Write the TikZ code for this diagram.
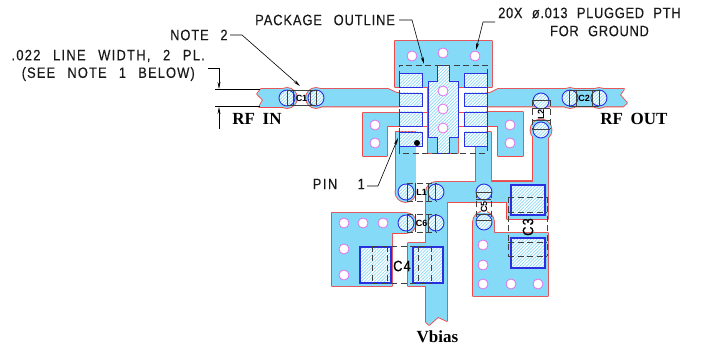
\documentclass[tikz,border=0pt]{standalone}
\usepackage{fontspec}
\usetikzlibrary{patterns.meta,arrows.meta}
\setmainfont{Liberation Serif}
\newfontfamily\cadfont[FakeStretch=0.86,FakeBold=0.25,LetterSpace=6,WordSpace=2.6]{Liberation Sans}
\newfontfamily\cadwide[FakeStretch=0.86,FakeBold=0.25,LetterSpace=8.5,WordSpace=2.6]{Liberation Sans}
\newfontfamily\cadmid[FakeStretch=0.86,FakeBold=0.25,LetterSpace=7.5,WordSpace=2.6]{Liberation Sans}
\newfontfamily\cadnarrow[FakeStretch=0.86,FakeBold=0.25,LetterSpace=4.5,WordSpace=2.2]{Liberation Sans}
\newfontfamily\cadpin[FakeStretch=0.86,FakeBold=0.25,LetterSpace=10,WordSpace=4]{Liberation Sans}
\newfontfamily\cadsmall{Liberation Sans}
\newfontfamily\rffont[WordSpace=1.8]{Liberation Serif}
\definecolor{copper}{HTML}{84DAF7}
\definecolor{redline}{HTML}{F04848}
\definecolor{padblue}{HTML}{2A30E0}
\definecolor{hatch}{HTML}{86D8F5}
\definecolor{viamag}{HTML}{E070EE}
\definecolor{dashgrey}{HTML}{404040}
\tikzset{
  x=1pt,y=-1pt,
  cu/.style={draw=redline,line width=1.7pt,line join=round},
  cf/.style={fill=copper},
  pad/.style={draw=padblue,line width=0.9pt,preaction={fill=white},pattern={Lines[angle=45,distance=2.3pt,line width=0.7pt]},pattern color=hatch},
  padthick/.style={pad,line width=1.2pt},
  plated/.style={pad},
  via/.style={draw=viamag,fill=white,line width=0.8pt},
  comp/.style={draw=dashgrey,line width=0.8pt,dash pattern=on 6pt off 3.5pt},
  compsolid/.style={draw=dashgrey,line width=0.7pt},
  lead/.style={draw=black,line width=0.6pt},
  arr/.style={lead,-{Stealth[length=7pt,width=3pt]}},
  cadtxt/.style={font=\cadfont\fontsize{15}{15}\selectfont,inner sep=0pt,text=black!90},
  cadtxtw/.style={cadtxt,font=\cadwide\fontsize{15}{15}\selectfont},
  cadtxtm/.style={cadtxt,font=\cadmid\fontsize{15}{15}\selectfont},
  cadtxtn/.style={cadtxt,font=\cadnarrow\fontsize{15}{15}\selectfont},
  cadtxtp/.style={cadtxt,font=\cadpin\fontsize{15}{15}\selectfont},
  rftxt/.style={font=\rffont\bfseries\fontsize{17}{17}\selectfont,inner sep=0pt},
  reftxt/.style={font=\cadsmall\bfseries\fontsize{9}{9}\selectfont,inner sep=0pt,fill=white},
  reflarge/.style={font=\cadmid\fontsize{15}{15}\selectfont,inner sep=0pt},
}
\newcommand{\CopperShapes}[1]{%
  #1 (395,41)--(492,41)--(492,87)--(458,87)--(458,153)--(428,153)--(428,87)--(395,87)--cycle;
  #1 (261,89)--(287,89)--(287,107)--(259,107)--(263,100)--(257,94)--cycle;
  #1 (316,89)--(388,89)--(397,93)--(399,93)--(399,106.5)--(316,106.5)--cycle;
  #1 (287,98) circle[radius=10];
  #1 (316,98) circle[radius=10];
  #1 (363,113)--(399,113)--(399,126)--(387,126)--(387,156)--(363,156)--cycle;
  #1 (487,112)--(523,112)--(523,156)--(498,156)--(498,126)--(487,126)--cycle;
  #1 (487,93)--(490,93)--(498,89)--(624,89)--(620,95)--(627,103)--(623,106.5)--(487,106.5)--cycle;
  #1 (570,98) circle[radius=10];
  #1 (599,98) circle[radius=10];
  #1 (395.5,132)--(415.5,132)--(415.5,192)--(395.5,192)--cycle;
  #1 (405.5,192) circle[radius=10];
  #1 (436,182)--(476,182)--(476,146)--(487,146)--(487,132)--(491,132)--(491,181)--(533,181)--(533,130)--(548,130)--(548,219)--(507,219)--(507,202)--(447,202)--(447,321)--(438,317)--(429,325)--(426,322)--(426,286)--(408,286)--(408,243)--(426,243)--(426,192)--cycle;
  #1 (436,192) circle[radius=10];
  #1 (541,130) circle[radius=10.5];
  #1 (332,213)--(406,213)--(406,233)--(392,233)--(392,286)--(332,286)--cycle;
  #1 (406,223) circle[radius=10];
  #1 (473,222)--(494,222)--(494,233)--(548,233)--(548,296)--(473,296)--cycle;
  #1 (483.5,222) circle[radius=10.5];
}
\begin{document}
\begin{tikzpicture}
\useasboundingbox (0,0) rectangle (717,347);
% copper as a union
\CopperShapes{\draw[cu]}
\CopperShapes{\fill[cf]}
% stubs between pads and centre pad
\draw[redline,line width=0.9pt] (422,112)--(428,112) (422,126)--(428,126) (458,112)--(464,112) (458,126)--(464,126);
\draw[redline,line width=0.9pt] (491,181)--(533,181);
% package pads
\foreach \yy/\yb in {73/87,93/106,112/126,132/146}{
  \draw[pad] (399,\yy) rectangle (422,\yb);
  \draw[pad] (464,\yy) rectangle (487,\yb);
}
\draw[pad] (437,65)--(449,65)--(449,81)--(458,81)--(458,137)--(449,137)--(449,153)--(437,153)--(437,137)--(428,137)--(428,81)--(437,81)--cycle;
% large capacitor pads
\draw[padthick] (360,247) rectangle (391,283);
\draw[padthick] (413,247) rectangle (443,283);
\draw[padthick] (511,185) rectangle (545,215);
\draw[padthick] (511,238) rectangle (545,268);
% plated vias
\foreach \px/\py in {287/98,316/98,570/98,599/98,541/101,541/130,406/192,436/192,406/223,436/223,484/192,484/222}{
  \draw[plated] (\px,\py) circle[radius=8];
}
% ground vias
\foreach \px/\py in {412/56,443/53,475/56,443/91,443/109,443/128,375/125,375/143,510/125,510/143,344/223,363/223,383/223,344/249,344/275,483/245,483/265,483/284,511/284,538/284}{
  \draw[via] (\px,\py) circle[radius=5];
}
% package outline
\draw[comp] (399,153)--(399,65)--(487,65)--(487,153)--cycle;
% pin-one dot
\fill[black] (417,143) circle[radius=3];
% C1
\draw[compsolid] (287,90)--(316,90) (287,105)--(316,105) (287,90)--(287,105) (293,90)--(293,105) (310,90)--(310,105) (316,90)--(316,105);
\node[reftxt,fill=none] (c1) at (301.5,98) {C1};
% C2
\draw[compsolid] (569,90)--(599,90) (569,106)--(599,106) (569,90)--(569,106) (576,90)--(576,106) (592,90)--(592,106) (599,90)--(599,106);
\node[reftxt,fill=none] (c2) at (584,98) {C2};
% L1, C6
\draw[comp] (407,183)--(436,183) (407,201)--(436,201) (407,214)--(436,214) (407,232)--(436,232);
\draw[compsolid] (407,183)--(407,201) (415,183)--(415,201) (428,183)--(428,201) (435,183)--(435,201)
  (407,214)--(407,232) (415,214)--(415,232) (428,214)--(428,232) (435,214)--(435,232);
\node[reftxt,fill=none] (l1) at (421.5,192) {L1};
\node[reftxt,fill=none] (c6) at (421.5,223) {C6};
% C5
\draw[comp] (476,192)--(476,220) (491,192)--(491,220);
\draw[compsolid] (476,192)--(491,192) (476,199)--(491,199) (476,214)--(491,214) (476,220)--(491,220);
\node[reftxt,rotate=90] (c5) at (484,207) {C5};
% L2
\draw[comp] (532,100)--(532,129) (550,100)--(550,129);
\draw[compsolid] (532,100)--(550,100) (532,108)--(550,108) (532,120)--(550,120) (532,129)--(550,129);
\node[reftxt,fill=none,rotate=90] (l2) at (541,114.5) {L2};
% C3
\draw[comp] (508,197)--(547,197) (508,212)--(547,212) (508,242)--(547,242) (508,256)--(547,256) (508,197)--(508,256) (547,197)--(547,256);
\node[reflarge,rotate=90] (c3) at (528,227) {C3};
% C4
\draw[comp] (372,246)--(431,246) (372,283)--(431,283) (372,246)--(372,283) (387,246)--(387,283) (391,246)--(391,283) (413,246)--(413,283) (418,246)--(418,283) (431,246)--(431,283);
\node[reflarge] (c4) at (402,266) {C4};
% labels
\node[cadtxt,anchor=west] (pkg) at (255,20) {PACKAGE OUTLINE};
\node[cadtxt,anchor=west] (note) at (170,35) {NOTE 2};
\node[cadtxtw,anchor=east] (lw) at (205,56) {.022 LINE WIDTH, 2 PL.};
\node[cadtxtm,anchor=east] (see) at (195,74) {(SEE NOTE 1 BELOW)};
\node[cadtxtn,anchor=west] (ptha) at (498,13) {20X ø.013 PLUGGED PTH};
\node[cadtxtn] (pthb) at (599.5,31) {FOR GROUND};
\node[cadtxtp,anchor=east] (pin) at (365,184) {PIN 1};
\node[rftxt] (rfin) at (257,119) {RF IN};
\node[rftxt] (rfout) at (634,119) {RF OUT};
\node[rftxt] (vb) at (437.5,337) {Vbias};
% leaders
\coordinate (pkgS) at (399,20); \coordinate (pkgK) at (412,20); \coordinate (pkgT) at (424,64);
\draw[arr] (pkgS) -- (pkgK) -- (pkgT);
\coordinate (noteS) at (230,35); \coordinate (noteK) at (242,35); \coordinate (noteT) at (300,86);
\draw[arr] (noteS) -- (noteK) -- (noteT);
\coordinate (pthS) at (495,22); \coordinate (pthK) at (483,22); \coordinate (pthT) at (476,50);
\draw[arr] (pthS) -- (pthK) -- (pthT);
\coordinate (pinK) at (378,186); \coordinate (pinT) at (398,138); \coordinate (pinS) at (367,186);
\draw[arr] (pinS) -- (pinK) -- (pinT);
% dimension
\coordinate (dA) at (208,68); \coordinate (dB) at (219,68); \coordinate (dT) at (219,89);
\coordinate (eA) at (215,89); \coordinate (eB) at (260,89);
\coordinate (fA) at (215,106); \coordinate (fB) at (260,106);
\coordinate (gA) at (219,129); \coordinate (gT) at (219,107);
\draw[arr] (dA)--(dB)--(dT);
\draw[lead] (eA)--(eB) (fA)--(fB);
\draw[arr] (gA)--(gT);
\end{tikzpicture}
\end{document}
